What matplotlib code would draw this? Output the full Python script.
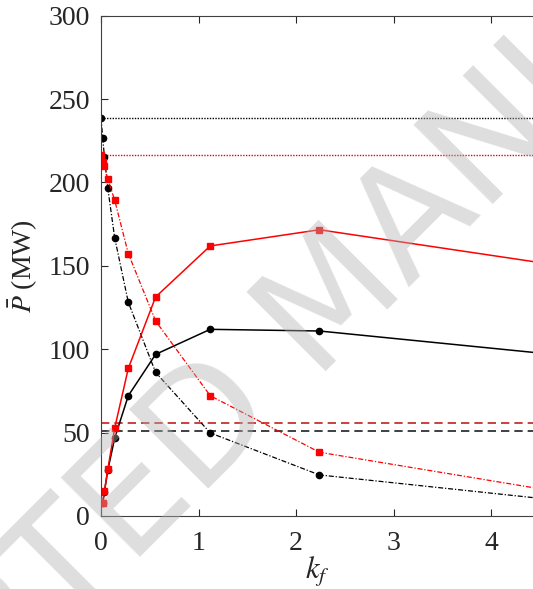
import matplotlib
matplotlib.use("Agg")
import matplotlib.pyplot as plt

plt.rcParams["font.family"] = ["Liberation Serif", "DejaVu Serif"]
plt.rcParams["mathtext.fontset"] = "stix"

# k_f values (doubling steps)
kf = [0.0175, 0.035, 0.07, 0.14, 0.28, 0.56, 1.12, 2.24, 4.48]
kf_dec = [0.0, 0.0175, 0.035, 0.07, 0.14, 0.28, 0.56, 1.12, 2.24, 4.48]

# increasing curves (solid, markers)
p_black_up = [7.5, 14.5, 27.5, 46.6, 72.1, 96.9, 111.9, 110.9, 97.8]
p_red_up = [8.0, 15.0, 28.0, 52.6, 88.5, 131.3, 161.9, 171.6, 152.1]

# decreasing curves (dash-dot, markers)
p_black_down = [238.8, 226.8, 215.4, 196.4, 166.9, 128.1, 86.1, 49.8, 24.6, 10.7]
p_red_down = [216.4, 212.0, 209.8, 202.0, 189.4, 157.3, 116.9, 72.1, 38.2, 16.5]

# reference levels
ref_black_dotted = 238.8
ref_red_dotted = 216.4
ref_red_dashed = 55.9
ref_black_dashed = 51.1

fig = plt.figure(figsize=(5.33, 5.89), dpi=100)
ax = fig.add_axes([0.1895, 0.124, 0.8105, 0.8495])

ax.axhline(ref_black_dotted, color="black", ls=(0, (1, 1)), lw=1.0)
ax.axhline(ref_red_dotted, color="#d01010", ls=(0, (1, 1)), lw=1.0)
ax.axhline(ref_red_dashed, color="#c02020", ls=(0, (5, 3)), lw=1.2)
ax.axhline(ref_black_dashed, color="#202020", ls=(0, (5, 3)), lw=1.2)

ax.plot(kf_dec, p_black_down, color="black", ls=(0, (4, 1.5, 1, 1.5)), lw=0.9,
        marker="o", ms=4.5)
ax.plot(kf_dec, p_red_down, color="red", ls=(0, (4, 1.5, 1, 1.5)), lw=0.9,
        marker="s", ms=3.8)
ax.plot(kf, p_black_up, color="black", ls="-", lw=1.1, marker="o", ms=4.5)
ax.plot(kf, p_red_up, color="red", ls="-", lw=1.1, marker="s", ms=3.8)

ax.set_xlim(0, 4.43)
ax.set_ylim(0, 300)
ax.set_xticks([0, 1, 2, 3, 4])
ax.set_yticks([0, 50, 100, 150, 200, 250, 300])
ax.tick_params(direction="in", top=True, right=False, length=5,
               width=0.8, labelsize=20, colors="#262626", pad=8)
ax.tick_params(axis="x", pad=11)
for s in ["left", "bottom", "top"]:
    ax.spines[s].set_color("#404040")
    ax.spines[s].set_linewidth(0.8)
ax.spines["right"].set_visible(False)

ax.set_xlabel(r"$k_f$", fontsize=22, color="#262626", labelpad=-1)
ax.set_ylabel(r"$\bar{P}$ (MW)", fontsize=20, color="#262626", labelpad=6)

# watermark
fig.text(0.63, 0.49, "ACCEPTED MANUSCRIPT", fontsize=110, color="#b0b0b0",
         alpha=0.42, rotation=45, ha="center", va="center",
         family="DejaVu Sans", zorder=10)

fig.savefig("out.png", dpi=100)
